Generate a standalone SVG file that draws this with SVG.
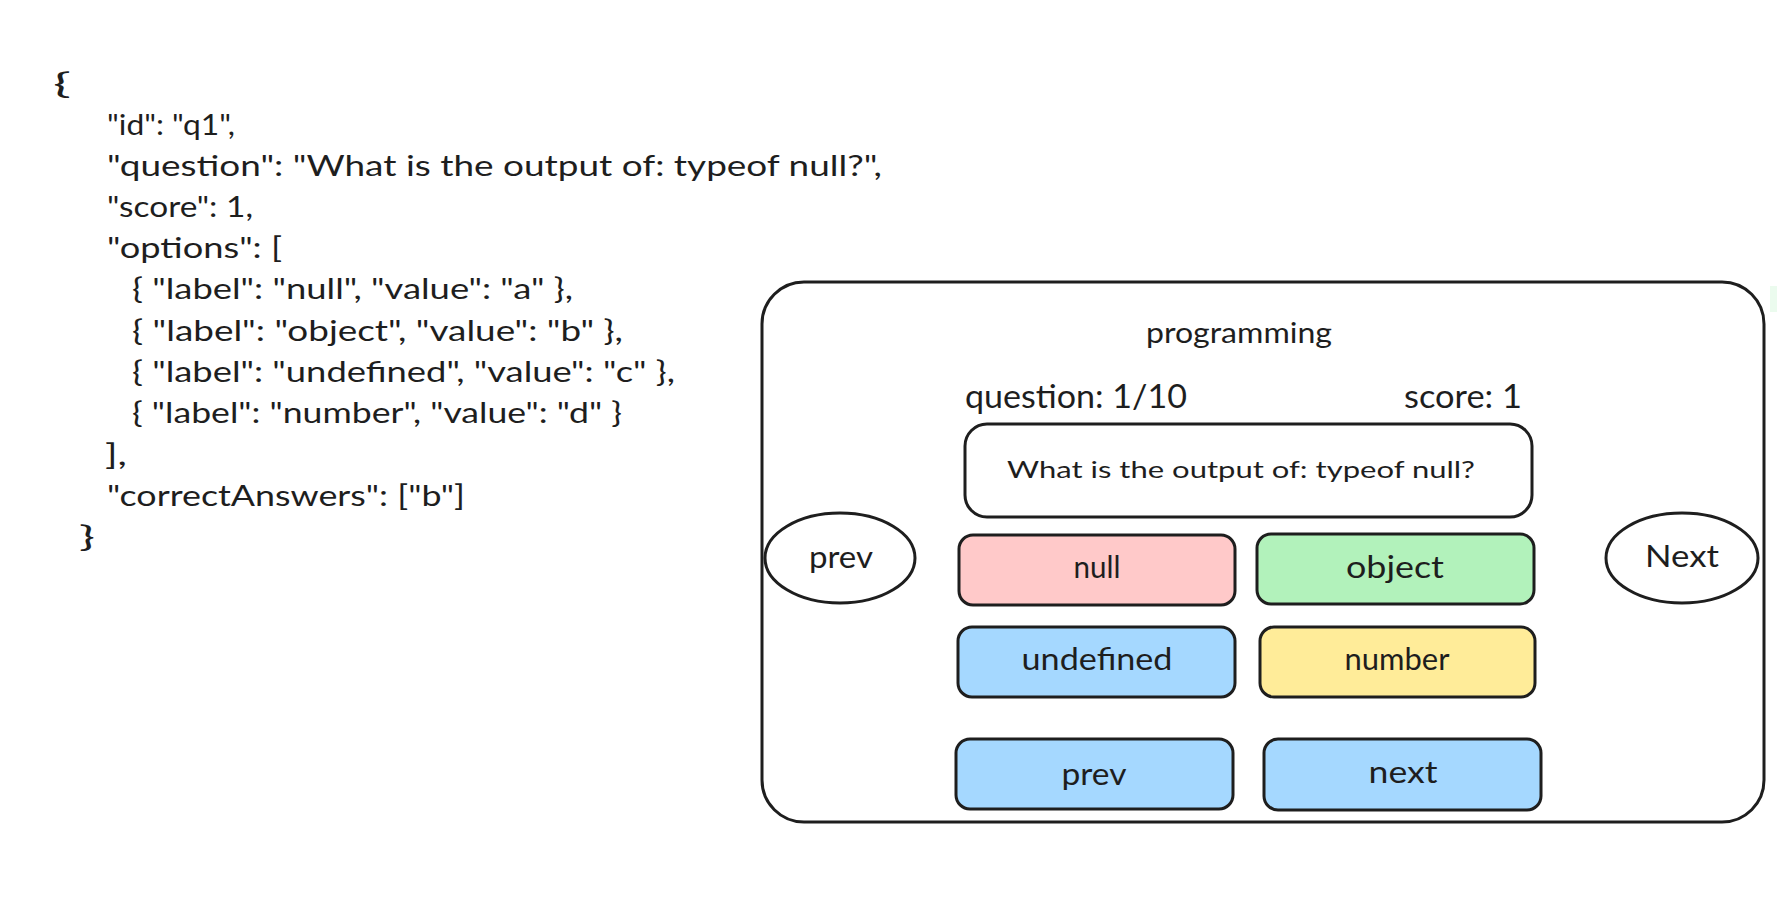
<svg xmlns="http://www.w3.org/2000/svg" width="1777" height="911" viewBox="0 0 1777 911">
<style>
  .t { font-family: "Lato", "Open Sans", "Liberation Sans", sans-serif; fill: #1e1e1e; }
  .code { font-size: 29px; }
  .lbl { font-size: 31px; text-anchor: middle; }
  .hdr { font-size: 32px; }
  .sk { stroke: #1e1e1e; stroke-width: 3; stroke-linejoin: round; }
</style>
<rect width="1777" height="911" fill="#ffffff"/>

<g id="json">
  <text class="t code" x="53" y="94" textLength="18" lengthAdjust="spacingAndGlyphs">{</text>
  <text class="t code" x="107" y="135" textLength="128" lengthAdjust="spacingAndGlyphs">"id": "q1",</text>
  <text class="t code" x="107" y="176" textLength="775" lengthAdjust="spacingAndGlyphs">"question": "What is the output of: typeof null?",</text>
  <text class="t code" x="107" y="217" textLength="146" lengthAdjust="spacingAndGlyphs">"score": 1,</text>
  <text class="t code" x="107" y="258" textLength="175" lengthAdjust="spacingAndGlyphs">"options": [</text>
  <text class="t code" x="132" y="299" textLength="441" lengthAdjust="spacingAndGlyphs">{ "label": "null", "value": "a" },</text>
  <text class="t code" x="132" y="341" textLength="491" lengthAdjust="spacingAndGlyphs">{ "label": "object", "value": "b" },</text>
  <text class="t code" x="132" y="382" textLength="543" lengthAdjust="spacingAndGlyphs">{ "label": "undefined", "value": "c" },</text>
  <text class="t code" x="132" y="423" textLength="490" lengthAdjust="spacingAndGlyphs">{ "label": "number", "value": "d" }</text>
  <text class="t code" x="105" y="465" textLength="22" lengthAdjust="spacingAndGlyphs">],</text>
  <text class="t code" x="107" y="506" textLength="358" lengthAdjust="spacingAndGlyphs">"correctAnswers": ["b"]</text>
  <text class="t code" x="79" y="547" textLength="16" lengthAdjust="spacingAndGlyphs">}</text>
</g>

<g id="frame">
  <rect class="sk" x="762" y="282" width="1002" height="540" rx="42" ry="42" fill="#ffffff"/>
  <rect x="1770" y="286" width="7" height="26" fill="#ebfbee"/>
</g>

<g id="title">
  <text class="t" x="1146" y="343" font-size="28" textLength="186" lengthAdjust="spacingAndGlyphs">programming</text>
</g>
<g id="question-count">
  <text class="t hdr" x="965" y="408" textLength="222" lengthAdjust="spacingAndGlyphs">question: 1/10</text>
</g>
<g id="score">
  <text class="t hdr" x="1404" y="408" textLength="118" lengthAdjust="spacingAndGlyphs">score: 1</text>
</g>

<g id="question-box">
  <rect class="sk" x="965" y="424" width="567" height="93" rx="22" ry="22" fill="#ffffff"/>
  <text class="t" x="1007" y="478" font-size="24" textLength="468" lengthAdjust="spacingAndGlyphs">What is the output of: typeof null?</text>
</g>

<g id="opt-null">
  <rect class="sk" x="959" y="535" width="276" height="70" rx="14" ry="14" fill="#ffc9c9"/>
  <text class="t lbl" x="1097" y="578" textLength="47" lengthAdjust="spacingAndGlyphs">null</text>
</g>
<g id="opt-object">
  <rect class="sk" x="1257" y="534" width="277" height="70" rx="14" ry="14" fill="#b2f2bb"/>
  <text class="t lbl" x="1395" y="578" textLength="98" lengthAdjust="spacingAndGlyphs">object</text>
</g>
<g id="opt-undefined">
  <rect class="sk" x="958" y="627" width="277" height="70" rx="14" ry="14" fill="#a5d8ff"/>
  <text class="t lbl" x="1097" y="670" textLength="151" lengthAdjust="spacingAndGlyphs">undefined</text>
</g>
<g id="opt-number">
  <rect class="sk" x="1260" y="627" width="275" height="70" rx="14" ry="14" fill="#ffec99"/>
  <text class="t lbl" x="1397" y="670" textLength="105" lengthAdjust="spacingAndGlyphs">number</text>
</g>

<g id="btn-prev">
  <rect class="sk" x="956" y="739" width="277" height="70" rx="14" ry="14" fill="#a5d8ff"/>
  <text class="t lbl" x="1094" y="785" textLength="65" lengthAdjust="spacingAndGlyphs">prev</text>
</g>
<g id="btn-next">
  <rect class="sk" x="1264" y="739" width="277" height="71" rx="14" ry="14" fill="#a5d8ff"/>
  <text class="t lbl" x="1403" y="783" textLength="69" lengthAdjust="spacingAndGlyphs">next</text>
</g>

<g id="circle-prev">
  <ellipse class="sk" cx="840" cy="558" rx="75" ry="45" fill="#ffffff"/>
  <text class="t lbl" x="841" y="568" textLength="64" lengthAdjust="spacingAndGlyphs">prev</text>
</g>
<g id="circle-next">
  <ellipse class="sk" cx="1682" cy="558" rx="76" ry="45" fill="#ffffff"/>
  <text class="t lbl" x="1682" y="567" textLength="74" lengthAdjust="spacingAndGlyphs">Next</text>
</g>

<g id="connectors"></g>
</svg>
